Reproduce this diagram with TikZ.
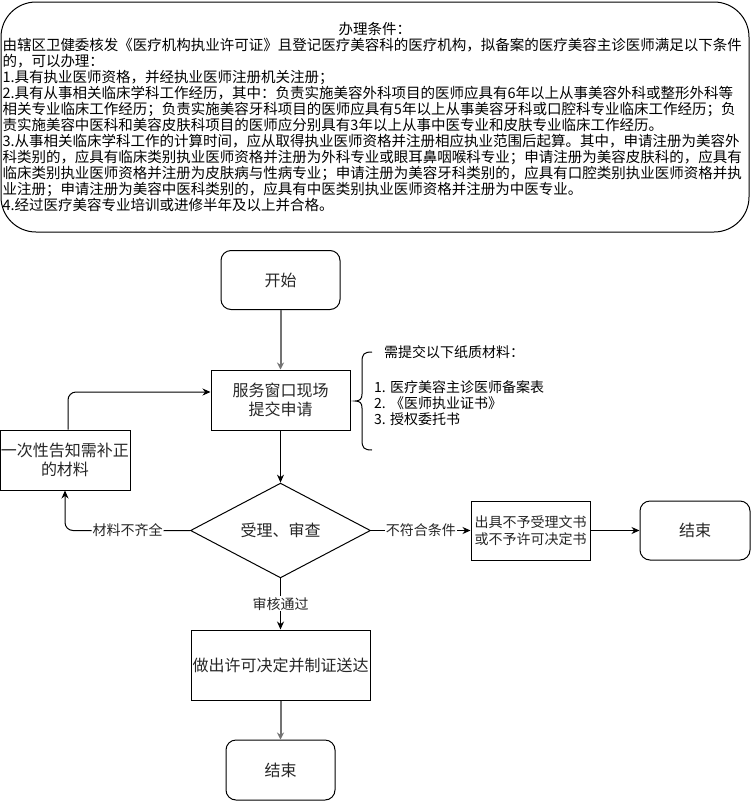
\documentclass[tikz,border=0pt]{standalone}
\usepackage{fontspec}
\setmainfont{Noto Sans CJK SC}
\usetikzlibrary{shapes.geometric, arrows.meta}

\tikzset{
  box/.style={draw, line width=1pt, inner sep=0pt, align=center, text=black!85,
    font=\fontsize{16}{19}\selectfont},
  startend/.style={box, rounded corners=10pt, minimum width=119pt, minimum height=59pt},
  process/.style={box, minimum width=139pt, minimum height=60pt},
  decision/.style={box, diamond, minimum width=180pt, minimum height=79pt},
  flow/.style={line width=1pt, arrows=-{Stealth[length=8pt, width=7pt]}},
  grayflow/.style={line width=2pt, black!55, arrows=-{Stealth[length=7pt, width=7pt]}},
  edgelabel/.style={fill=white, inner sep=1pt, text=black!85,
    font=\fontsize{14}{16}\selectfont},
}

\begin{document}
\begin{tikzpicture}[x=1pt, y=-1pt]

  \useasboundingbox (0,0) rectangle (751,801);

  % Conditions frame
  \node[draw, line width=1pt, rounded corners=35pt, minimum width=748pt, minimum height=230pt,
    text width=745pt, inner xsep=1.5pt, inner ysep=0pt, align=left,
    font=\fontsize{14.5}{16}\selectfont] (cond) at (375,117)
  {\makebox[\linewidth]{办理条件：}\\
   由辖区卫健委核发《医疗机构执业许可证》且登记医疗美容科的医疗机构，拟备案的医疗美容主诊医师满足以下条件\\
   的，可以办理：\\
   1.具有执业医师资格，并经执业医师注册机关注册；\\
   2.具有从事相关临床学科工作经历，其中：负责实施美容外科项目的医师应具有6年以上从事美容外科或整形外科等\\
   相关专业临床工作经历；负责实施美容牙科项目的医师应具有5年以上从事美容牙科或口腔科专业临床工作经历；负\\
   责实施美容中医科和美容皮肤科项目的医师应分别具有3年以上从事中医专业和皮肤专业临床工作经历。\\
   3.从事相关临床学科工作的计算时间，应从取得执业医师资格并注册相应执业范围后起算。其中，申请注册为美容外\\
   科类别的，应具有临床类别执业医师资格并注册为外科专业或眼耳鼻咽喉科专业；申请注册为美容皮肤科的，应具有\\
   临床类别执业医师资格并注册为皮肤病与性病专业；申请注册为美容牙科类别的，应具有口腔类别执业医师资格并执\\
   业注册；申请注册为美容中医科类别的，应具有中医类别执业医师资格并注册为中医专业。\\
   4.经过医疗美容专业培训或进修半年及以上并合格。};

  \def \xMain {280.5}
  \def \yCheck {530.5}

  % Main column
  \node[startend] (start)  at (\xMain, 280) {开始};
  \node[process]  (apply)  at (\xMain, 400) {服务窗口现场\\提交申请};
  \node[decision] (check)  at (\xMain, \yCheck) {受理、审查};
  \node[process, minimum width=179pt, minimum height=70pt] (decide) at (\xMain, 665)
    {做出许可决定并制证送达};
  \node[startend, minimum width=109pt, minimum height=60pt] (finA) at (\xMain, 770) {结束};

  % Left branch
  \node[process, minimum width=130pt] (notify) at (65, 460) {一次性告知需补正\\的材料};

  % Right branch
  \node[process, minimum width=119pt, minimum height=59pt,
    font=\fontsize{14}{17}\selectfont] (refuse) at (530.5, \yCheck)
    {出具不予受理文书\\或不予许可决定书};
  \node[startend, minimum width=110pt] (finB) at (695, \yCheck) {结束};

  % Materials note
  \node[anchor=north west, inner sep=0pt, align=left, text=black,
    font=\fontsize{14}{16}\selectfont] (notes) at (374, 345)
  {\hspace*{10pt}需提交以下纸质材料：\\[19pt]
   1. 医疗美容主诊医师备案表\\
   2. 《医师执业证书》\\
   3. 授权委托书};
  \draw[line width=1pt] (372,352) .. controls (364,352) and (362,354) .. (362,362)
    -- (362,394) .. controls (362,399) and (360,401) .. (355,401)
    .. controls (360,401) and (362,403) .. (362,408)
    -- (362,440) .. controls (362,448) and (364,450) .. (372,450);

  % LINES
  \draw[grayflow] (start) -- (apply);
  \draw[flow] (apply) -- (check);
  \draw[flow] (check) -- (decide) node[edgelabel, pos=0.5] {审核通过};
  \draw[grayflow] (decide) -- (finA);

  \draw[flow] (check) -- (refuse) node[edgelabel, pos=0.5] {不符合条件};
  \draw[flow] (refuse) -- (finB);

  \draw[flow, rounded corners=8pt] (check.west) -| (notify.south)
    node[edgelabel, pos=0.25] {材料不齐全};
  \draw[flow, rounded corners=8pt] ([xshift=3pt]notify.north) |- ([yshift=8pt]apply.west);

\end{tikzpicture}
\end{document}
